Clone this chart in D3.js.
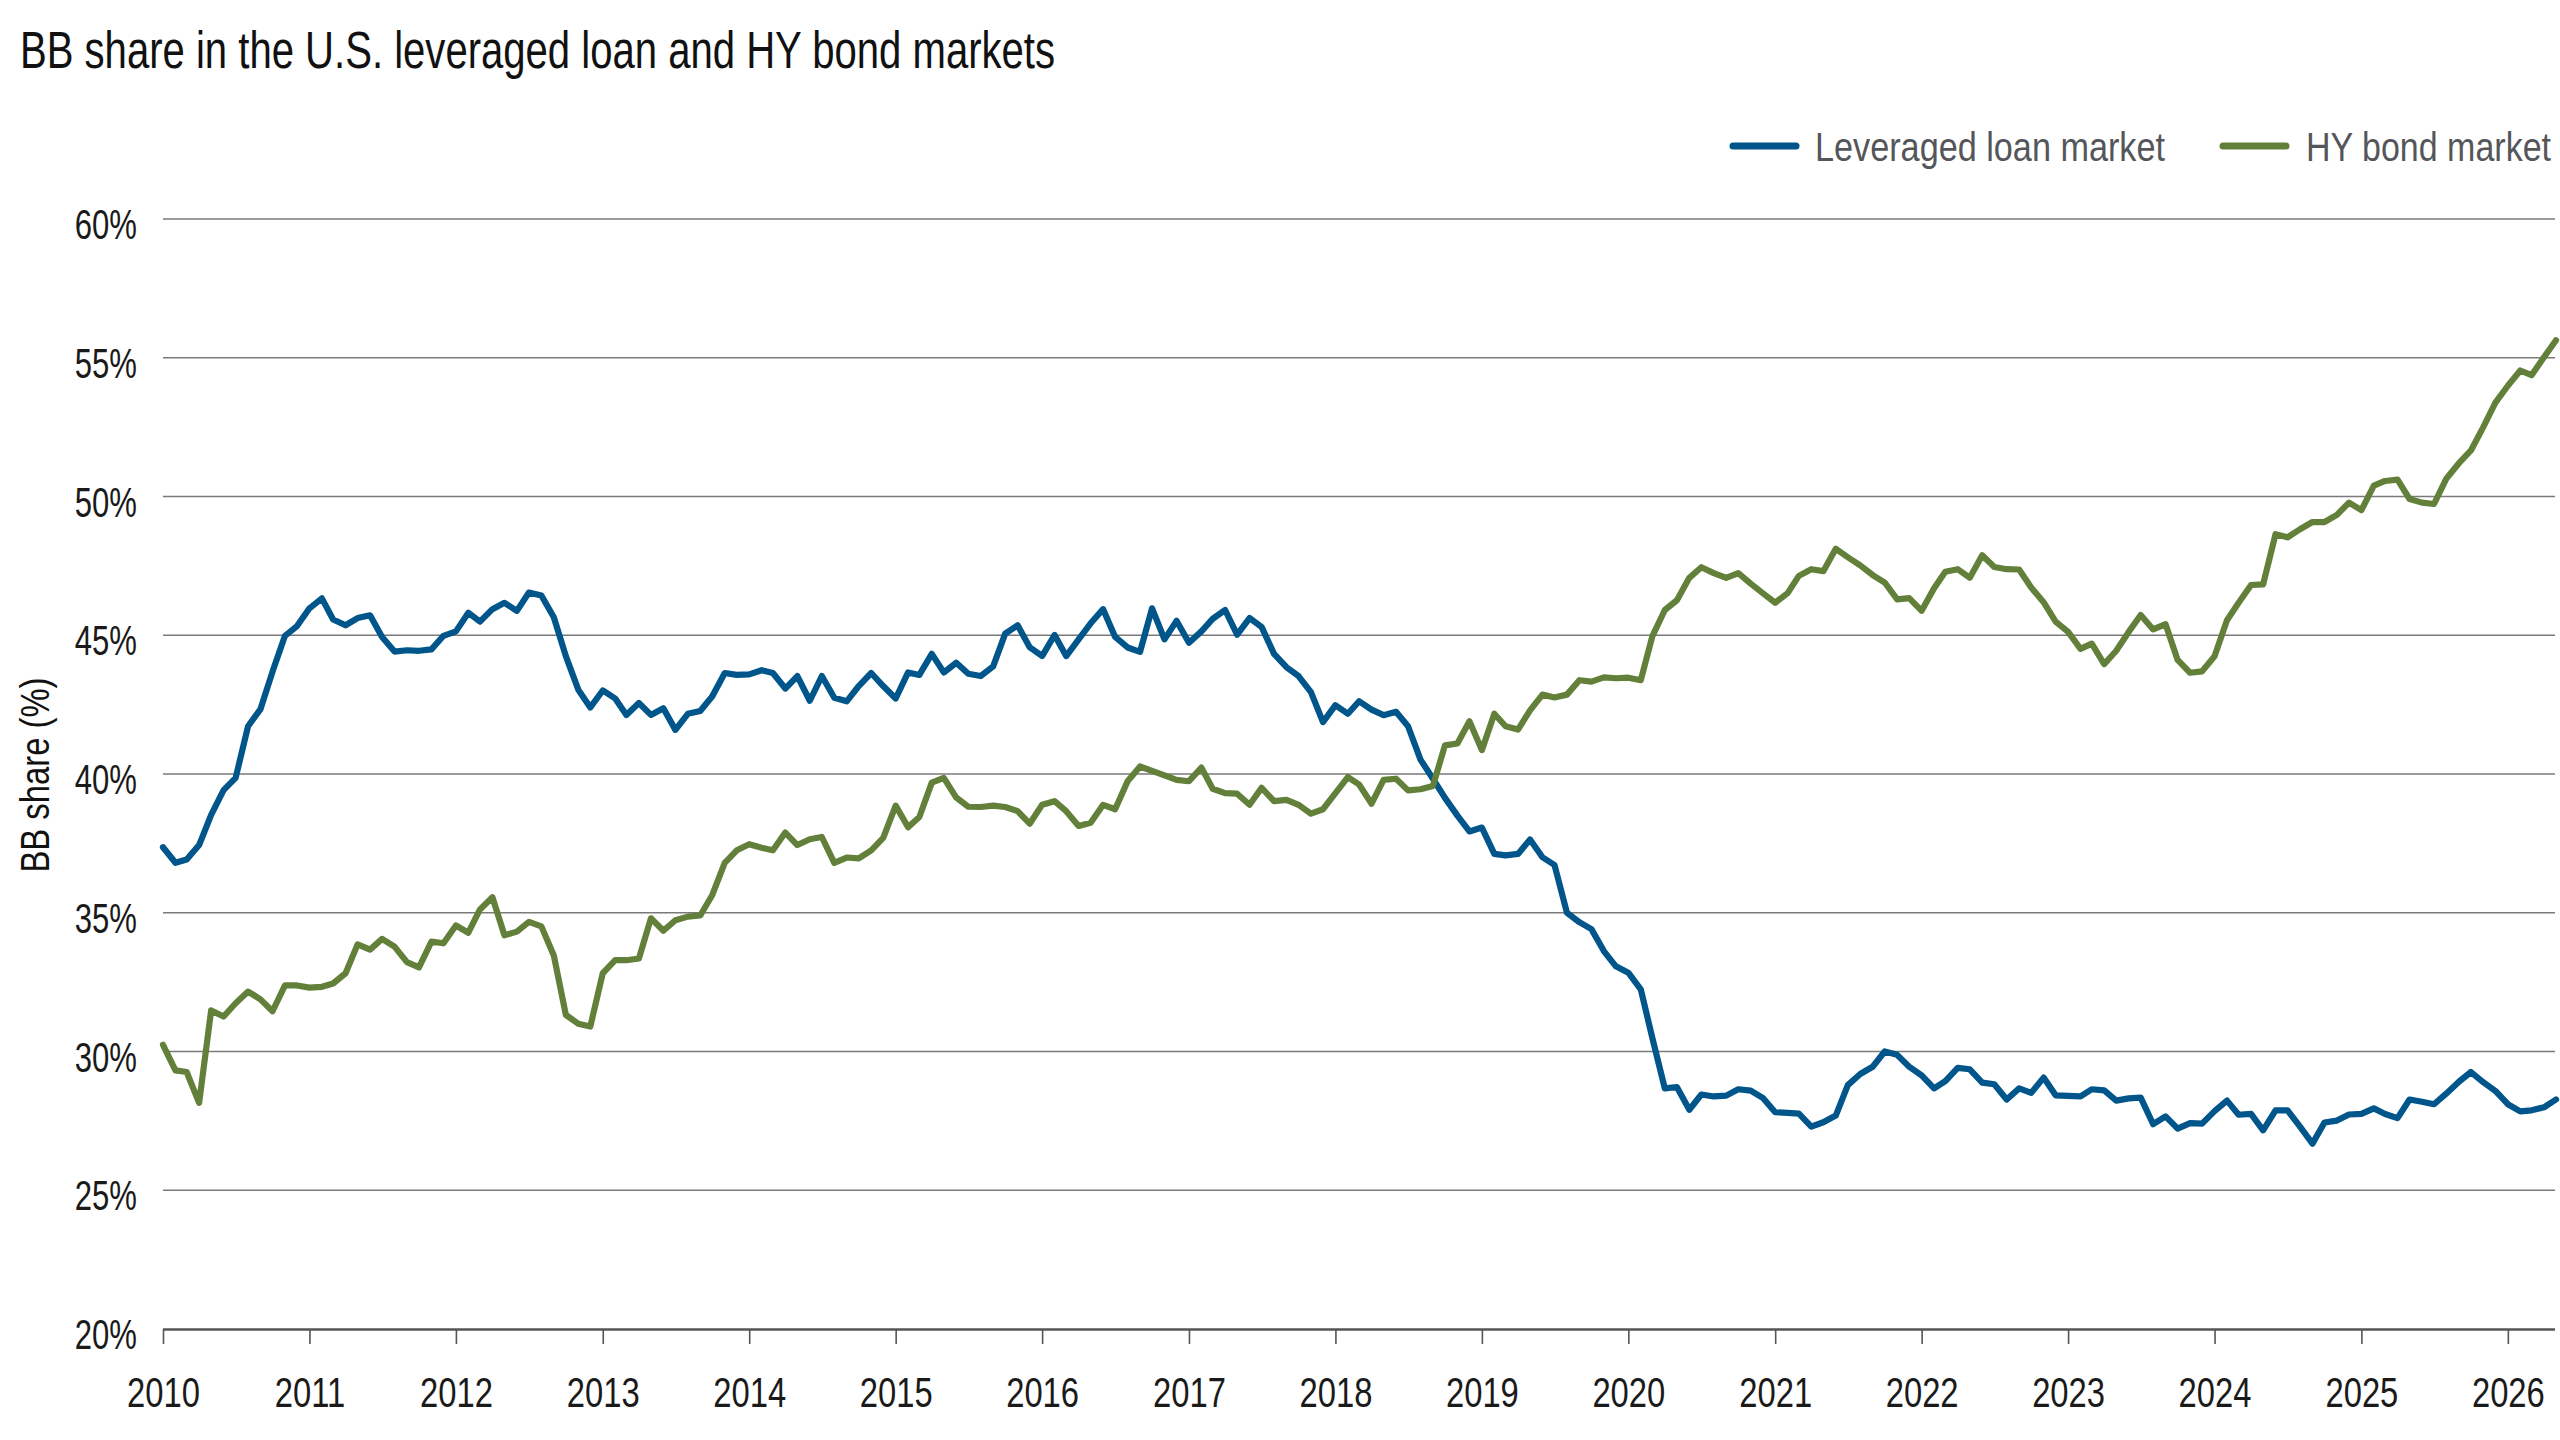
<!DOCTYPE html>
<html><head><meta charset="utf-8">
<script src="https://cdn.jsdelivr.net/npm/d3@7"></script>
<style>
html,body{margin:0;padding:0;background:#fff;}
svg{display:block;}
text{font-family:"Liberation Sans",Arial,sans-serif;}
</style></head><body>
<svg id="chart" width="2560" height="1440"></svg>
<script>
const chartTitle = "BB share in the U.S. leveraged loan and HY bond markets";
const yAxisTitle = "BB share (%)";
const seriesNames = ["Leveraged loan market", "HY bond market"];
const startMonth = "2010-01";
const yearTicks = [2010,2011,2012,2013,2014,2015,2016,2017,2018,2019,2020,2021,2022,2023,2024,2025,2026];
const yTicks = [20,25,30,35,40,45,50,55,60];

const leveragedLoan = [
37.36,36.80,36.92,37.44,38.53,39.42,39.86,41.72,42.34,43.69,44.98,45.33,
45.97,46.33,45.57,45.36,45.62,45.72,44.94,44.41,44.46,44.44,44.49,44.98,
45.14,45.81,45.49,45.94,46.17,45.88,46.54,46.43,45.65,44.25,43.04,42.40,
43.01,42.72,42.13,42.56,42.13,42.37,41.59,42.17,42.27,42.80,43.64,43.57,
43.59,43.74,43.64,43.08,43.53,42.64,43.53,42.75,42.62,43.17,43.64,43.17,
42.72,43.66,43.57,44.33,43.66,44.01,43.61,43.53,43.88,45.06,45.36,44.57,
44.25,45.01,44.25,44.85,45.43,45.94,44.94,44.56,44.40,45.97,44.85,45.52,
44.73,45.14,45.59,45.91,45.02,45.62,45.30,44.33,43.85,43.53,42.95,41.87,
42.48,42.17,42.62,42.32,42.12,42.24,41.72,40.52,39.83,39.14,38.50,37.93,
38.07,37.12,37.07,37.12,37.64,37.00,36.72,35.00,34.66,34.41,33.62,33.07,
32.84,32.24,30.48,28.67,28.72,27.90,28.45,28.38,28.41,28.64,28.59,28.33,
27.81,27.79,27.76,27.29,27.45,27.69,28.79,29.19,29.45,30.00,29.88,29.45,
29.14,28.67,28.93,29.41,29.36,28.88,28.82,28.27,28.67,28.51,29.06,28.42,
28.40,28.38,28.64,28.60,28.23,28.31,28.34,27.38,27.66,27.22,27.42,27.40,
27.85,28.23,27.72,27.75,27.16,27.88,27.88,27.29,26.68,27.44,27.51,27.73,
27.75,27.95,27.75,27.60,28.27,28.19,28.10,28.49,28.91,29.26,28.89,28.58,
28.10,27.84,27.88,27.99,28.27
];

const hyBond = [
30.24,29.32,29.26,28.15,31.48,31.26,31.74,32.16,31.88,31.45,32.38,32.38,
32.30,32.33,32.45,32.82,33.86,33.67,34.06,33.78,33.22,33.03,33.96,33.90,
34.54,34.28,35.12,35.56,34.19,34.32,34.67,34.51,33.46,31.32,31.00,30.90,
32.82,33.29,33.29,33.35,34.80,34.35,34.73,34.86,34.90,35.64,36.80,37.25,
37.47,37.34,37.25,37.89,37.44,37.65,37.73,36.80,36.99,36.96,37.25,37.70,
38.86,38.08,38.45,39.69,39.86,39.15,38.82,38.81,38.86,38.81,38.66,38.21,
38.89,39.02,38.66,38.13,38.24,38.89,38.73,39.74,40.27,40.11,39.95,39.79,
39.74,40.23,39.47,39.31,39.29,38.89,39.50,39.02,39.07,38.89,38.57,38.73,
39.31,39.89,39.62,38.93,39.79,39.83,39.41,39.45,39.57,41.03,41.10,41.90,
40.86,42.17,41.72,41.60,42.29,42.86,42.76,42.86,43.38,43.33,43.48,43.45,
43.47,43.38,44.97,45.91,46.26,47.07,47.45,47.24,47.07,47.24,46.86,46.52,
46.17,46.52,47.14,47.38,47.31,48.12,47.81,47.52,47.17,46.90,46.29,46.34,
45.88,46.69,47.29,47.38,47.07,47.88,47.46,47.38,47.37,46.72,46.19,45.49,
45.12,44.51,44.70,43.96,44.44,45.12,45.73,45.21,45.40,44.11,43.65,43.70,
44.24,45.54,46.17,46.81,46.83,48.64,48.53,48.82,49.08,49.08,49.34,49.78,
49.51,50.39,50.56,50.61,49.91,49.78,49.73,50.65,51.20,51.66,52.51,53.38,
53.99,54.54,54.37,55.02,55.63
];

const colors = ["#00558a", "#63803a"];

(function draw() {
  const svg = d3.select("#chart");
  svg.append("rect").attr("width",2560).attr("height",1440).attr("fill","#fff");

  function condense(sel, f) {
    sel.each(function() {
      const w = this.getComputedTextLength();
      d3.select(this).attr("textLength", w * f).attr("lengthAdjust", "spacingAndGlyphs");
    });
  }

  const plotL = 163, plotR = 2556, plotT = 219, plotB = 1329;
  const start = d3.timeParse("%Y-%m")(startMonth);
  const dates = leveragedLoan.map((d,i) => d3.timeMonth.offset(start, i));

  const x = d3.scaleTime().domain([start, dates[dates.length-1]]).range([plotL, plotR]);
  const y = d3.scaleLinear().domain([20, 60]).range([plotB, plotT]);

  svg.append("g").selectAll("line").data(yTicks.filter(v => v > 20)).join("line")
    .attr("x1", plotL).attr("x2", 2555)
    .attr("y1", d => y(d)).attr("y2", d => y(d))
    .attr("stroke", "#7a7a7a").attr("stroke-width", 1.6);

  const yl = svg.append("g").selectAll("text").data(yTicks).join("text")
    .attr("x", 137).attr("y", d => y(d) + 20)
    .attr("text-anchor", "end").attr("font-size", 42).attr("fill", "#1a1a1a")
    .text(d => d + "%");
  condense(yl, 0.74);

  const xAxis = d3.axisBottom(x)
    .tickValues(yearTicks.map(yv => new Date(yv, 0, 1)))
    .tickFormat(d3.timeFormat("%Y"))
    .tickSize(15).tickPadding(33).tickSizeOuter(0);
  const gx = svg.append("g").attr("transform", `translate(0,${plotB})`).call(xAxis);
  gx.select(".domain").attr("d", `M${plotL},0.5H2555`).attr("stroke", "#555").attr("stroke-width", 2.5);
  gx.selectAll(".tick line").attr("stroke", "#555").attr("stroke-width", 1.6);
  const xt = gx.selectAll(".tick text").attr("font-size", 42).attr("fill", "#1a1a1a")
    .attr("font-family", '"Liberation Sans",Arial,sans-serif');
  condense(xt, 0.78);

  const line = d3.line().x((d,i) => x(dates[i])).y(d => y(d));
  [leveragedLoan, hyBond].forEach((s, k) => {
    svg.append("path").datum(s).attr("d", line)
      .attr("fill", "none").attr("stroke", colors[k])
      .attr("stroke-width", 6.2).attr("stroke-linejoin", "round").attr("stroke-linecap", "round");
  });

  svg.append("text").attr("x", 20).attr("y", 68).attr("font-size", 51).attr("fill", "#111")
    .attr("textLength", 1035).attr("lengthAdjust", "spacingAndGlyphs")
    .text(chartTitle);

  svg.append("text").attr("transform", "translate(49,775) rotate(-90)")
    .attr("text-anchor", "middle").attr("font-size", 40).attr("fill", "#111")
    .attr("textLength", 195).attr("lengthAdjust", "spacingAndGlyphs")
    .text(yAxisTitle);

  const legendPos = [{sx:1733, tx:1815, w:350}, {sx:2223, tx:2306, w:245}];
  const lg = svg.append("g");
  seriesNames.forEach((n, k) => {
    lg.append("line").attr("x1", legendPos[k].sx).attr("x2", legendPos[k].sx + 63)
      .attr("y1", 146).attr("y2", 146).attr("stroke", colors[k])
      .attr("stroke-width", 7).attr("stroke-linecap", "round");
    lg.append("text").attr("x", legendPos[k].tx).attr("y", 161)
      .attr("font-size", 40).attr("fill", "#55565a")
      .attr("textLength", legendPos[k].w).attr("lengthAdjust", "spacingAndGlyphs")
      .text(n);
  });
})();
</script>
</body></html>
